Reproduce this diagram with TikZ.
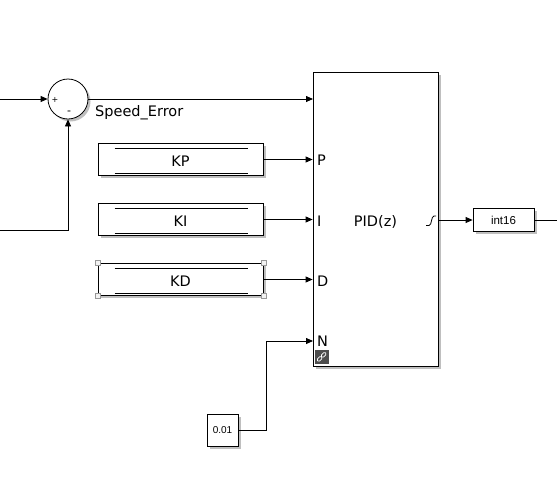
\documentclass[tikz,border=0pt]{standalone}
\usepackage{fontspec}
\setmainfont{DejaVu Sans}
\newfontfamily\arialf{Liberation Sans}
\usetikzlibrary{arrows.meta,calc,shadows}
\begin{document}
\begin{tikzpicture}[x=1pt,y=-1pt,
  blk/.style={draw=black, line width=0.8pt, fill=white, rectangle, inner sep=0pt,
    drop shadow={shadow xshift=2.5pt,shadow yshift=-2.5pt,opacity=0.5}},
  wire/.style={line width=0.8pt, -{Triangle[length=7pt,width=6pt]}},
  plainwire/.style={line width=0.8pt},
  lbl/.style={font=\fontsize{14.5}{16}\selectfont, inner sep=0pt},
  handle/.style={draw=gray!80, fill=gray!10, line width=0.5pt, minimum size=5pt, inner sep=0pt, rectangle},
  gainbox/.style={blk, minimum width=165pt, minimum height=32pt, font=\fontsize{14.5}{16}\selectfont,
    text height=13pt, text depth=0pt}]
\useasboundingbox (0,0) rectangle (557,488);

% sum block
\node[blk, circle, minimum size=40pt] (sum) at (68,99) {};
\node[font=\fontsize{8}{9}\selectfont, inner sep=0pt] (plus) at (55,99.5) {+};
\node[font=\fontsize{11}{12}\selectfont, inner sep=0pt] (minus) at (69,113) {-};
\coordinate (in1) at (0,99);
\coordinate (in2) at (0,230);

% PID block
\node[blk, minimum width=125pt, minimum height=294pt] (pid) at (375.5,219) {};
\node[lbl, anchor=base] (pidtxt) at (375.5,226.5) {PID(z)};
\node[lbl, anchor=base west] (lp) at (317,165.5) {P};
\node[lbl, anchor=base west] (li) at (317,226.5) {I};
\node[lbl, anchor=base west] (ld) at (317,286.5) {D};
\node[lbl, anchor=base west] (ln) at (317,346.5) {N};
\coordinate (pin0) at (313,99);
\coordinate (pinN) at (313,341);
\coordinate (pout) at (438,220);
\draw[line width=0.8pt] (426,225.5) -- (429,225.5) .. controls (432,225.5) and (431,216) .. (434,216) -- (436,216);

% link icon
\node[fill=black!70, minimum size=14pt, inner sep=0pt, rectangle] (link) at (321.5,357) {};
\draw[white, line width=0.7pt, rounded corners=1.2pt, rotate around={45:(319.5,359)}] (317,357.5) rectangle (322.5,360.5);
\draw[white, line width=0.7pt, rounded corners=1.2pt, rotate around={45:(323.5,355)}] (321,353.5) rectangle (326.5,356.5);

% gain blocks
\node[gainbox] (kp) at (180.5,159.5) {KP};
\node[gainbox] (ki) at (180.5,219.5) {KI};
\node[gainbox] (kd) at (180.5,279.5) {KD};
\foreach \b in {kp,ki,kd}{
  \draw[plainwire] ($(\b.north west)+(17,5)$) -- ($(\b.north east)+(-15,5)$);
  \draw[plainwire] ($(\b.south west)+(17,-3)$) -- ($(\b.south east)+(-15,-3)$);
}
\node[handle] (h1) at (kd.north west) {};
\node[handle] (h2) at (kd.north east) {};
\node[handle] (h3) at (kd.south west) {};
\node[handle] (h4) at (kd.south east) {};

% constant
\node[blk, minimum width=31pt, minimum height=32pt, font=\arialf\fontsize{10}{12}\selectfont] (c01) at (222.5,430) {0.01};

% int16
\node[blk, minimum width=61pt, minimum height=23pt, font=\arialf\fontsize{11.5}{13}\selectfont] (i16) at (503.5,220) {int16};
\coordinate (out) at (557,220);

% Speed error label
\node[lbl, anchor=base west] (se) at (95,116.5) {Speed\_Error};

% wires
\draw[wire] (in1) -- (sum.west);
\draw[wire] (in2) -| (sum.south);
\draw[wire] (sum.east) -- (pin0);
\draw[wire] (kp.east) -- (kp.east -| pid.west);
\draw[wire] (ki.east) -- (ki.east -| pid.west);
\draw[wire] (kd.east) -- (kd.east -| pid.west);
\draw[wire] (c01.east) -- ++(28,0) |- (pinN);
\draw[wire] (pout) -- (i16.west);
\draw[plainwire] (i16.east) -- (out);
\end{tikzpicture}
\end{document}
